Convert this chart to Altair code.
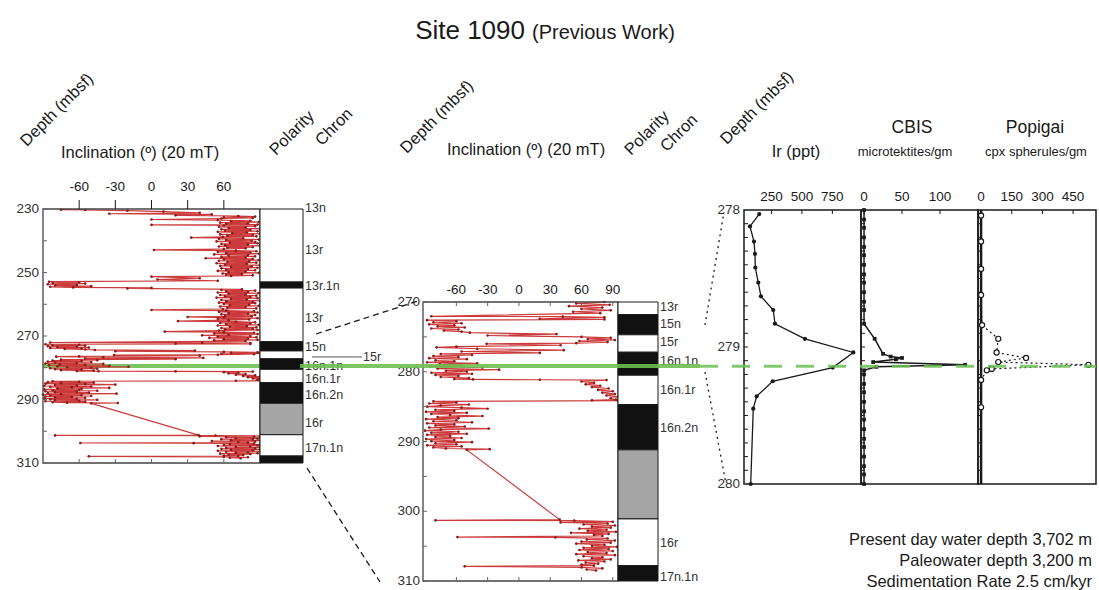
import altair as alt
import pandas as pd

FONT = "Liberation Sans"
INK = "#1a1a1a"
RED = "#cc3b3b"
DARKRED = "#8e1a1a"
GREEN = "#6dbf52"

# ---------------- data ----------------
# Inclination record (Site 1090), depth in mbsf, inclination in degrees
incl_depth_upper = [
    230.2, 230.3, 230.5, 230.8, 231.2, 231.5, 231.7, 232.0, 232.2, 232.4,
    232.6, 232.8, 233.0, 233.3, 233.5, 233.7, 233.9, 234.1, 234.3, 234.5,
    234.7, 234.9, 235.0, 235.2, 235.4, 235.6, 235.8, 236.0, 236.2, 236.4,
    236.6, 236.8, 237.0, 237.2, 237.4, 237.6, 237.8, 238.0, 238.2, 238.4,
    238.6, 238.8, 239.0, 239.2, 239.4, 239.6, 239.8, 240.0, 240.2, 240.4,
    240.6, 240.8, 241.0, 241.2, 241.4, 241.6, 241.8, 242.0, 242.2, 242.4,
    242.6, 242.9, 243.1, 243.3, 243.5, 243.7, 243.9, 244.1, 244.3, 244.5,
    244.7, 244.9, 245.1, 245.3, 245.5, 245.7, 245.9, 246.1, 246.3, 246.5,
    246.7, 246.9, 247.1, 247.3, 247.5, 247.7, 247.9, 248.1, 248.3, 248.5,
    248.7, 248.9, 249.1, 249.3, 249.5, 249.7, 249.9, 250.1, 250.3, 250.5,
    250.7, 250.9, 251.1, 251.3, 251.8, 252.2, 252.6, 252.9, 253.1, 253.3,
    253.5, 253.7, 253.9, 254.1, 254.3, 254.5, 254.7, 254.85, 255.0, 255.3,
    255.5, 255.7, 255.9, 256.1, 256.3, 256.5, 256.7, 256.9, 257.1, 257.3,
    257.5, 257.7, 257.9, 258.1, 258.3, 258.5, 258.7, 258.9, 259.1, 259.3,
    259.5, 259.7, 259.9, 260.1, 260.3, 260.5, 260.7, 260.9, 261.1, 261.3,
    261.5, 261.8, 262.0, 262.2, 262.4, 262.6, 262.8, 263.0, 263.2, 263.4,
    263.6, 263.8, 264.0, 264.2, 264.4, 264.6, 264.8, 265.0, 265.3, 265.5,
    265.7, 265.9, 266.1, 266.3, 266.5, 266.7, 266.9, 267.1, 267.3, 267.5,
    267.7, 267.9, 268.1, 268.3, 268.6, 268.8, 269.0, 269.2, 269.4, 269.6,
    269.8, 270.0, 270.2, 270.4, 270.6, 270.8, 271.0, 271.2, 271.4, 271.6,
]
incl_value_upper = [
    -75, -55, -20, 10, 40, -35, 50, 20, 72, 86,
    60, 84, 58, 0, 55, 82, 66, 89, 57, 80,
    62, 88, 0, 60, 86, 56, 78, 64, 90, 58,
    82, 61, 88, 55, 79, 67, 90, 57, 84, 63,
    87, 59, 33, 76, 56, 89, 62, 83, 54, 86,
    65, 88, 58, 80, 61, 90, 56, 84, 63, 78,
    60, 2, 70, 87, 55, 82, 62, 89, 52, 80,
    64, 86, 58, 78, 45, 84, 60, 89, 56, 81,
    63, 87, 54, 79, 61, 90, 57, 83, 66, 88,
    58, 80, 62, 86, 55, 78, 64, 89, 59, 75,
    62, 84, 66, 0, 40, 5, 55, -85, -60, -82,
    -55, -86, -62, -80, -50, -84, -65, 0, -20, 75,
    58, 86, 62, 80, 55, 89, 64, 78, 57, 87,
    61, 82, 54, 88, 66, 79, 58, 90, 62, 84,
    56, 86, 60, 81, 65, 89, 57, 78, 63, 87,
    59, 0, 62, 85, 56, 88, 64, 80, 58, 86,
    61, 83, 30, 60, 88, 55, 81, 64, 22, 70,
    86, 57, 82, 62, 89, 55, 79, 65, 87, 58,
    84, 61, 88, 56, 11, 60, 85, 52, 88, 64,
    42, 82, 55, 87, 48, 80, 60, 88, 52, 78,
]
incl_depth_lower = [
    272.05, 272.1, 272.2, 272.4, 272.5, 272.6, 272.75, 272.9, 273.05, 273.2,
    273.35, 273.5, 273.65, 273.8, 273.95, 274.1, 274.25, 274.4, 274.6, 274.8,
    275.0, 275.15, 275.3, 275.45, 275.6, 275.75, 275.9, 276.0, 276.2, 276.4,
    276.5, 276.7, 276.9, 277.1, 277.3, 277.45, 277.6, 277.75, 277.9, 278.05,
    278.2, 278.35, 278.5, 278.65, 278.8, 278.95, 279.1, 279.25, 279.4, 279.55,
    279.7, 279.85, 280.0, 280.15, 280.3, 280.45, 280.6, 280.75, 280.9, 281.05,
    281.1, 281.15, 281.2, 281.4, 281.6, 281.8, 282.0, 282.2, 282.4, 282.6,
    282.8, 283.0, 283.2, 283.4, 283.6, 283.8, 284.0, 284.1, 284.15, 284.25,
    284.4, 284.55, 284.7, 284.85, 285.0, 285.15, 285.3, 285.45, 285.6, 285.75,
    285.9, 286.05, 286.2, 286.35, 286.5, 286.65, 286.8, 286.95, 287.1, 287.25,
    287.4, 287.55, 287.7, 287.85, 288.0, 288.15, 288.3, 288.45, 288.6, 288.75,
    288.9, 289.05, 289.2, 289.35, 289.5, 289.65, 289.8, 289.95, 290.1, 290.25,
    290.4, 290.55, 290.7, 290.85, 291.0, 291.1, 291.2,
    301.2, 301.3, 301.35, 301.5, 301.6, 301.75, 301.9, 302.05, 302.2, 302.35,
    302.5, 302.65, 302.8, 302.95, 303.1, 303.25, 303.4, 303.55, 303.7, 303.75,
    303.9, 304.05, 304.2, 304.35, 304.5, 304.65, 304.8, 304.95, 305.1, 305.25,
    305.4, 305.55, 305.7, 305.85, 306.0, 306.15, 306.3, 306.45, 306.6, 306.75,
    306.9, 307.05, 307.2, 307.35, 307.5, 307.65, 307.8, 307.9, 308.05, 308.2,
    308.35, 308.5,
]
incl_value_lower = [
    -84, 42, 82, 20, 82, -88, -60, -82, -55, -86,
    -62, -78, -52, -84, -58, -72, -55, -47, 36, -30,
    60, 88, 66, 92, 58, 85, 55, -31, 40, -60,
    -79, -40, 43, -55, 20, -75, -45, -82, -58, -86,
    -50, -80, -62, -88, -40, -76, -55, -85, -35, -78,
    -19, -70, -50, -84, -45, -80, -58, -75, -48, -62,
    -44, 20, 84, 60, 72, 64, 78, 70, 86, 76,
    90, 80, 92, 84, 95, 88, 93, 70, 95, -82,
    -60, -86, -48, -75, -88, -55, -30, -80, -62, -89,
    -50, -84, -66, -35, -78, -58, -89, -60, -82, -45,
    -88, -62, -80, -52, -86, -29, -75, -90, -58, -84,
    -50, -88, -66, -80, -55, -89, -62, -84, -45, -80,
    -60, -88, -55, -82, -70, -28, -50,
    39, -80, 53, 90, 40, 85, 62, 92, 70, 88,
    58, 84, 66, 93, 50, 86, 72, 80, -59, 35,
    85, 65, 92, 60, 88, 55, 82, 70, 94, 62,
    86, 58, 90, 66, 84, 55, 92, 62, 80, 70,
    88, 57, 82, 64, 76, 60, 72, -52, 60, 80,
    65, 74,
]

# Polarity column
polarity_top = [230.0, 253.0, 254.9, 271.8, 274.7, 277.2, 280.5, 284.7, 291.2, 301.1, 307.8]
polarity_base = [253.0, 254.9, 271.8, 274.7, 277.2, 280.5, 284.7, 291.2, 301.1, 307.8, 310.0]
polarity_state = ["reversed", "normal", "reversed", "normal", "reversed", "normal",
                  "reversed", "normal", "uncertain", "reversed", "normal"]

# Chron labels
left_chron_names = ["13n", "13r", "13r.1n", "13r", "15n", "16n.1n", "16n.1r", "16n.2n", "16r", "17n.1n"]
left_chron_depths = [229.7, 242.9, 254.3, 264.3, 273.5, 279.3, 283.5, 288.6, 297.4, 305.3]
mid_chron_names = ["13r", "15n", "15r", "16n.1n", "16n.1r", "16n.2n", "16r", "17n.1n"]
mid_chron_depths = [270.7, 273.15, 275.7, 278.46, 282.6, 288.06, 304.55, 309.4]

# Ir (ppt)
ir_depth = [278.03, 278.12, 278.23, 278.32, 278.42, 278.53, 278.63, 278.73, 278.83,
            278.94, 279.04, 279.15, 279.25, 279.36, 279.45, 280.0]
ir_ppt = [150, 74, 107, 115, 118, 142, 164, 265, 279, 525, 922, 753, 260, 129, 101, 80]

# CBIS microtektites/gm
cbis_depth = [278.00, 278.07, 278.13, 278.20, 278.27, 278.33, 278.40, 278.47, 278.53, 278.60,
              278.67, 278.73, 278.83, 278.94, 279.05, 279.07, 279.08, 279.09, 279.11, 279.13,
              279.145, 279.17, 279.20, 279.27, 279.33, 279.40, 279.47, 279.53, 279.60, 279.67,
              279.73, 279.80, 279.87, 279.93, 280.00]
cbis_count = [0, 0, 0, 0, 0, 0, 0, 0, 0, 0,
              0, 0, 0, 14, 25, 35, 50, 42, 12, 133,
              16, 0, 0, 0, 0, 0, 0, 0, 0, 0,
              0, 0, 0, 0, 0]

# Popigai cpx spherules/gm
popigai_depth = [278.04, 278.23, 278.43, 278.62, 278.84, 278.94, 279.04, 279.08, 279.11,
                 279.13, 279.16, 279.17, 279.24, 279.44]
popigai_count = [0, 0, 0, 0, 5, 84, 76, 220, 84, 525, 52, 28, 0, 0]

# axis ticks / labels
left_x_ticks = [-60, -30, 0, 30, 60]
left_y_ticks = [230, 240, 250, 260, 270, 280, 290, 300, 310]
left_y_labels = [230, 250, 270, 290, 310]
mid_x_ticks = [-60, -30, 0, 30, 60, 90]
mid_y_ticks = [270, 275, 280, 285, 290, 295, 300, 305, 310]
mid_y_labels = [270, 280, 290, 300, 310]
ir_ticks = [250, 500, 750]
cbis_ticks = [0, 50, 100]
popigai_ticks = [0, 150, 300, 450]
right_y_labels = [278, 279, 280]
right_y_minor = [278.1, 278.2, 278.3, 278.4, 278.5, 278.6, 278.7, 278.8, 278.9, 279.0,
                 279.1, 279.2, 279.3, 279.4, 279.5, 279.6, 279.7, 279.8, 279.9]
impact_depth_mid = 279.18
impact_depth_right = 279.14


# ---------------- helpers ----------------
def sc(dom, rng, clamp=False):
    if clamp:
        return alt.Scale(domain=dom, range=rng, nice=False, zero=False, clamp=True)
    return alt.Scale(domain=dom, range=rng, nice=False, zero=False)


LX = sc([-90, 90], [43, 260], clamp=True)
LY = sc([230, 310], [209, 463])
LPX = sc([0, 1], [260, 303])
MX = sc([-92, 95], [423, 618])
MY = sc([270, 310], [302, 581])
MPX = sc([0, 1], [618, 658])
RY = sc([278, 280], [210, 484])
IRX = sc([25, 985], [744, 861])
CBX = sc([-4, 150], [861, 978])
POX = sc([-15, 562], [978, 1096])

one = pd.DataFrame({"k": [0]})


def qx(field, s):
    return alt.X(field, type="quantitative", scale=s, axis=None)


def qy(field, s):
    return alt.Y(field, type="quantitative", scale=s, axis=None)


def text(t, x, y, size=16.5, angle=0, align="center", color=INK):
    return alt.Chart(one).mark_text(
        text=t, fontSize=size, angle=angle, align=align, baseline="middle", font=FONT, color=color
    ).encode(x=alt.value(x), y=alt.value(y))


def frame(xs, ys, xd, yd, stroke=INK, sw=1.3):
    return alt.Chart(one).mark_rect(fill="white", fillOpacity=0, stroke=stroke, strokeWidth=sw).encode(
        x=alt.XDatum(xd[0], scale=xs, axis=None), x2=alt.X2Datum(xd[1]),
        y=alt.YDatum(yd[0], scale=ys, axis=None), y2=alt.Y2Datum(yd[1]))


def xticks(vals, xs, y1, y2, color=INK):
    df = pd.DataFrame({"v": vals})
    return alt.Chart(df).mark_rule(color=color, strokeWidth=1).encode(
        x=qx("v", xs), y=alt.value(y1), y2=alt.value(y2))


def yticks(vals, ys, x1, x2, color=INK):
    df = pd.DataFrame({"v": vals})
    return alt.Chart(df).mark_rule(color=color, strokeWidth=1).encode(
        y=qy("v", ys), x=alt.value(x1), x2=alt.value(x2))


def xlabels(vals, xs, y, size=13.5):
    df = pd.DataFrame({"v": vals, "t": [str(v) for v in vals]})
    return alt.Chart(df).mark_text(fontSize=size, font=FONT, color=INK, baseline="middle").encode(
        x=qx("v", xs), y=alt.value(y), text="t:N")


def ylabels(vals, ys, x, size=13.5):
    df = pd.DataFrame({"v": vals, "t": [str(v) for v in vals]})
    return alt.Chart(df).mark_text(fontSize=size, font=FONT, color="#333", align="right", baseline="middle").encode(
        y=qy("v", ys), x=alt.value(x), text="t:N")


def chron_labels(names, depths, ys, x, size=12.5):
    df = pd.DataFrame({"d": depths, "t": names})
    return alt.Chart(df).mark_text(fontSize=size, font=FONT, color="#333", align="left", baseline="middle").encode(
        y=qy("d", ys), x=alt.value(x), text="t:N")


pol_df = pd.DataFrame({"top": polarity_top, "base": polarity_base, "state": polarity_state})
pol_color = alt.Color("state:N", legend=None,
                      scale=alt.Scale(domain=["normal", "reversed", "uncertain"],
                                      range=["#111111", "#ffffff", "#a5a5a5"]))


def polarity(xs, ys, lo, hi):
    return alt.Chart(pol_df).transform_filter(
        f"datum.base > {lo} && datum.top < {hi}"
    ).transform_calculate(
        t=f"max(datum.top, {lo})", b=f"min(datum.base, {hi})"
    ).mark_rect(stroke=INK, strokeWidth=1).encode(
        x=alt.XDatum(0, scale=xs, axis=None), x2=alt.X2Datum(1),
        y=qy("t", ys), y2="b:Q", color=pol_color)


incl = pd.DataFrame({"depth": incl_depth_upper + incl_depth_lower,
                     "incl": incl_value_upper + incl_value_lower})
incl["idx"] = range(len(incl))

pt = alt.OverlayMarkDef(filled=True, size=7, color=DARKRED)

left_line = alt.Chart(incl).mark_line(color=RED, strokeWidth=1.2, point=pt).encode(
    x=qx("incl", LX), y=qy("depth", LY), order="idx:Q")
mid_line = alt.Chart(incl).transform_filter("datum.depth >= 270").mark_line(
    color=RED, strokeWidth=1.2, point=pt).encode(
    x=qx("incl", MX), y=qy("depth", MY), order="idx:Q")

ir_df = pd.DataFrame({"d": ir_depth, "v": ir_ppt})
ir_df["idx"] = range(len(ir_df))
cb_df = pd.DataFrame({"d": cbis_depth, "v": cbis_count})
cb_df["idx"] = range(len(cb_df))
po_df = pd.DataFrame({"d": popigai_depth, "v": popigai_count})
po_df["idx"] = range(len(po_df))

ir_line = alt.Chart(ir_df).mark_line(color=INK, strokeWidth=1.3,
                                     point=alt.OverlayMarkDef(filled=True, size=18, color=INK)).encode(
    x=qx("v", IRX), y=qy("d", RY), order="idx:Q")
cb_line = alt.Chart(cb_df).mark_line(color=INK, strokeWidth=1.5,
                                     point=alt.OverlayMarkDef(filled=True, size=14, color=INK, shape="square")).encode(
    x=qx("v", CBX), y=qy("d", RY), order="idx:Q")
po_base = alt.Chart(one).mark_rule(color=INK, strokeWidth=2.5).encode(
    x=alt.XDatum(0, scale=POX, axis=None), y=alt.YDatum(278, scale=RY, axis=None), y2=alt.Y2Datum(280))
po_line = alt.Chart(po_df).mark_line(color=INK, strokeWidth=1.2, strokeDash=[2, 3],
                                     point=alt.OverlayMarkDef(filled=False, size=26, color=INK, fill="white", strokeWidth=1.2)).encode(
    x=qx("v", POX), y=qy("d", RY), order="idx:Q")

green_a = alt.Chart(one).mark_rule(color=GREEN, strokeWidth=4, opacity=0.9).encode(
    x=alt.value(43), x2=alt.value(300), y=alt.YDatum(impact_depth_mid, scale=MY, axis=None))
green_b = alt.Chart(one).mark_rule(color=GREEN, strokeWidth=4, opacity=0.9).encode(
    x=alt.value(300), x2=alt.value(700), y=alt.YDatum(impact_depth_mid, scale=MY, axis=None))
green_c = alt.Chart(one).mark_rule(color=GREEN, strokeWidth=3, opacity=0.85, strokeDash=[18, 14]).encode(
    x=alt.value(700), x2=alt.value(1096), y=alt.YDatum(impact_depth_right, scale=RY, axis=None))


def connector(x1, y1, x2, y2, dash, sw=1.3):
    return alt.Chart(one).mark_rule(color=INK, strokeWidth=sw, strokeDash=dash).encode(
        x=alt.value(x1), y=alt.value(y1), x2=alt.value(x2), y2=alt.value(y2))


label_15r = alt.Chart(one).mark_rule(color="#555", strokeWidth=1).encode(
    x=alt.value(312), x2=alt.value(362), y=alt.YDatum(276.6, scale=LY, axis=None))

layers = [
    # title
    text("Site 1090", 525, 31, size=26, align="right"),
    text("(Previous Work)", 532, 33, size=20, align="left"),
    # left headers
    text("Depth (mbsf)", 57, 110, angle=315),
    text("Inclination (º) (20 mT)", 140, 153),
    text("Polarity", 292, 133, angle=315),
    text("Chron", 334, 127, angle=315),
    # middle headers
    text("Depth (mbsf)", 437, 117, angle=315),
    text("Inclination (º) (20 mT)", 526, 150),
    text("Polarity", 647, 133, angle=315),
    text("Chron", 679, 133, angle=315),
    # right headers
    text("Depth (mbsf)", 757, 108, angle=315),
    text("Ir (ppt)", 796, 152),
    text("CBIS", 912, 128, size=17.5),
    text("microtektites/gm", 905, 152, size=13),
    text("Popigai", 1035, 128, size=17.5),
    text("cpx spherules/gm", 1036, 152, size=13),
    # left panel
    green_a,
    left_line,
    frame(LX, LY, [-90, 90], [230, 310], stroke="#444"),
    xticks(left_x_ticks, LX, 200, 209),
    xticks(left_x_ticks, LX, 459, 463, color="#666"),
    yticks(left_y_ticks, LY, 43, 47, color="#666"),
    xlabels(left_x_ticks, LX, 187),
    ylabels(left_y_labels, LY, 39),
    polarity(LPX, LY, 230, 310),
    chron_labels(left_chron_names, left_chron_depths, LY, 305),
    label_15r,
    text("15r", 363, 357, size=12.5, align="left", color="#333"),
    # middle panel
    mid_line,
    frame(MX, MY, [-92, 95], [270, 310], stroke="#444"),
    xticks(mid_x_ticks, MX, 302, 306, color="#666"),
    xticks(mid_x_ticks, MX, 577, 581, color="#666"),
    yticks(mid_y_ticks, MY, 423, 427, color="#666"),
    xlabels(mid_x_ticks, MX, 290),
    ylabels(mid_y_labels, MY, 420),
    polarity(MPX, MY, 270, 310),
    chron_labels(mid_chron_names, mid_chron_depths, MY, 660),
    green_b,
    # connectors
    connector(316, 334, 421, 300, [6, 4]),
    connector(307, 468, 380, 582, [6, 4]),
    connector(705, 325, 724, 212, [2, 4]),
    connector(705, 372, 726, 484, [2, 4]),
    # right panels
    ir_line,
    cb_line,
    po_base,
    po_line,
    frame(IRX, RY, [25, 985], [278, 280], sw=1.5),
    frame(CBX, RY, [-4, 150], [278, 280], sw=1.5),
    frame(POX, RY, [-15, 562], [278, 280], sw=1.5),
    xticks(ir_ticks, IRX, 210, 214),
    xticks(cbis_ticks, CBX, 210, 214),
    xticks(popigai_ticks, POX, 210, 214),
    xlabels(ir_ticks, IRX, 197),
    xlabels(cbis_ticks, CBX, 197),
    xlabels(popigai_ticks, POX, 197),
    yticks(right_y_minor, RY, 744, 748),
    yticks(right_y_minor, RY, 861, 865),
    yticks(right_y_minor, RY, 978, 982),
    ylabels(right_y_labels, RY, 740),
    green_c,
    # notes
    text("Present day water depth 3,702 m", 1092, 540, size=16.5, align="right"),
    text("Paleowater depth 3,200 m", 1092, 561, size=16.5, align="right"),
    text("Sedimentation Rate 2.5 cm/kyr", 1092, 582, size=16.5, align="right"),
]

chart = alt.layer(*layers).resolve_scale(x="independent", y="independent").properties(
    width=1099, height=590, padding=0, autosize=alt.AutoSizeParams(type="none"), background="white"
).configure_view(stroke=None)

chart.save("out.html", embed_options={"renderer": "svg", "actions": False})
